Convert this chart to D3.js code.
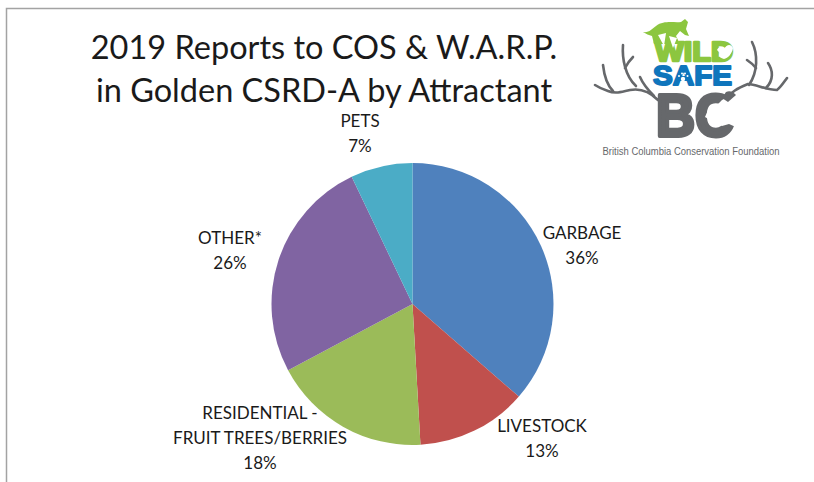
<!DOCTYPE html>
<html>
<head>
<meta charset="utf-8">
<script src="https://cdn.jsdelivr.net/npm/d3@7"></script>
<style>
	html, body { margin:0; padding:0; background:#fff; }
	text { font-family:Lato, "Open Sans", sans-serif; fill:#1a1a1a; }
</style>
</head>
<body>
<div id="svg-container"></div>
<script>
var categories = ["GARBAGE", "LIVESTOCK", "RESIDENTIAL -|FRUIT TREES/BERRIES", "OTHER*", "PETS"],
	shares = [36.4, 12.7, 18.1, 25.7, 7.1],
	colors = ["#4f81bd", "#c0504d", "#9bbb59", "#8064a2", "#4bacc6"],
	label_pos = [[582, 239], [542, 432], [260, 419], [230, 244], [360, 127]],
	title_lines = ["2019 Reports to COS & W.A.R.P.", "in Golden CSRD-A by Attractant"];

var svg_width = 814,
	svg_height = 482,
	pie_x = 412.5,
	pie_y = 304,
	radius = 141,
	line_spacing = 25;

var svg = d3.select("#svg-container").append("svg")
	.attr("width", svg_width)
	.attr("height", svg_height)
	.style("display", "block");

// slide frame
svg.append("path")
	.attr("d", "M6.5,482V8.5H814")
	.attr("fill", "none")
	.attr("stroke", "#a3a3a3")
	.attr("stroke-width", 1.5);

// title
svg.selectAll("text.title")
	.data(title_lines).enter().append("text")
	.attr("class", "title")
	.attr("x", 324)
	.attr("y", function (d, i) { return 59 + i * 43; })
	.attr("text-anchor", "middle")
	.attr("font-size", 32.5)
	.text(function (d) { return d; });

// pie
var pie = d3.pie().sort(null);
var arc = d3.arc().innerRadius(0).outerRadius(radius);

svg.append("g")
	.attr("transform", "translate(" + pie_x + " " + pie_y + ")")
	.selectAll("path")
	.data(pie(shares)).enter().append("path")
	.attr("d", arc)
	.attr("fill", function (d, i) { return colors[i]; });

// labels
var labels = svg.selectAll("g.label")
	.data(categories).enter().append("g")
	.attr("class", "label")
	.attr("transform", function (d, i) { return "translate(" + label_pos[i][0] + " " + label_pos[i][1] + ")"; });

labels.each(function (d, i) {
	var rows = d.split("|").concat([Math.round(shares[i]) + "%"]);
	d3.select(this).selectAll("text")
		.data(rows).enter().append("text")
		.attr("text-anchor", "middle")
		.attr("font-size", 17)
		.attr("y", function (r, j) { return j * line_spacing; })
		.text(function (r) { return r; });
});

// logo
var logo = svg.append("g");

var antlers = [
	"M658,100 C650,92 640,88 630,90 C622,92 615,94 608,91 C602,89 598,87 595,85",
	"M603,65 C604,74 606,84 613,91",
	"M623,45 C622,58 625,76 636,86",
	"M633,57 C630,60 627,64 625,68",
	"M640,77 C643,84 648,90 654,96",
	"M727,100 C730,92 738,88 748,84 C756,84 766,90 777,90 C781,87 784,82 787,78",
	"M752,42 C758,54 758,72 749,85",
	"M768,63 C773,70 774,80 766,88",
	"M747,60 C750,62 753,64 756,68"
];
logo.selectAll("path.antler")
	.data(antlers).enter().append("path")
	.attr("class", "antler")
	.attr("d", function (d) { return d; })
	.attr("fill", "none")
	.attr("stroke", "#66686b")
	.attr("stroke-width", 2.6)
	.attr("stroke-linecap", "round");

var logo_words = [
	{ t: "WILD", x: 694, y: 61, s: 27, c: "#8cc63f", w: 78, b: 2.4 },
	{ t: "SAFE", x: 692.5, y: 85, s: 28, c: "#0f75bc", w: 79, b: 2 },
	{ t: "BC", x: 695, y: 136, s: 60, c: "#66686b", w: 78, b: 4 }
];
logo.selectAll("text.logo")
	.data(logo_words).enter().append("text")
	.attr("class", "logo")
	.attr("x", function (d) { return d.x; })
	.attr("y", function (d) { return d.y; })
	.attr("text-anchor", "middle")
	.attr("font-weight", "bold")
	.attr("font-size", function (d) { return d.s; })
	.attr("textLength", function (d) { return d.w; })
	.attr("lengthAdjust", "spacingAndGlyphs")
	.style("font-family", "'Liberation Sans', sans-serif")
	.style("fill", function (d) { return d.c; })
	.style("stroke", function (d) { return d.c; })
	.style("stroke-width", function (d) { return d.b; })
	.style("stroke-linejoin", "round")
	.text(function (d) { return d.t; });

// cat lying over the W, with the gaps of the W cut out
logo.append("path")
	.attr("d", "M643,32 C649,33 652,29 656,26 C664,20 674,23 681,22 L685,19 L688,22 L686,29 L689,36 L685,35 L680,31 L676,36 L680,44 L654,44 L652,36 C649,35 646,34 643,32 Z")
	.attr("fill", "#8cc63f");
logo.selectAll("path.gap")
	.data(["M658,35 L666,33 L664,46 Z", "M669,36 L677,38 L673,48 Z"])
	.enter().append("path")
	.attr("class", "gap")
	.attr("d", function (d) { return d; })
	.attr("fill", "#fff");

// squirrel in the D, paw in the A, bear profile in the C
logo.append("path")
	.attr("d", "M717,50 C719,46 722,48 724,49 C727,44 731,44 733,48 C732,54 728,58 724,59 C720,58 718,56 720,53 Z")
	.attr("fill", "#fff");
logo.selectAll("circle.paw")
	.data([[683, 79, 2.2], [679, 76, 1], [682, 73.5, 1], [685, 73.5, 1], [687.5, 76, 1]])
	.enter().append("circle")
	.attr("class", "paw")
	.attr("cx", function (d) { return d[0]; })
	.attr("cy", function (d) { return d[1]; })
	.attr("r", function (d) { return d[2]; })
	.attr("fill", "#fff");
logo.append("path")
	.attr("d", "M731,95 L738,92 L738,128 L729,124 L722,126 L712,121 L705,117 L708,110 L716,106 L722,100 Z")
	.attr("fill", "#fff");
logo.append("path")
	.attr("d", "M726,92 C730,90 733,92 736,95 L728,102 L722,98 Z")
	.attr("fill", "#66686b");

logo.append("text")
	.attr("x", 691)
	.attr("y", 155)
	.attr("text-anchor", "middle")
	.attr("font-size", 10)
	.attr("textLength", 177)
	.attr("lengthAdjust", "spacingAndGlyphs")
	.style("font-family", "'Liberation Sans', sans-serif")
	.style("fill", "#66686b")
	.text("British Columbia Conservation Foundation");
</script>
</body>
</html>
